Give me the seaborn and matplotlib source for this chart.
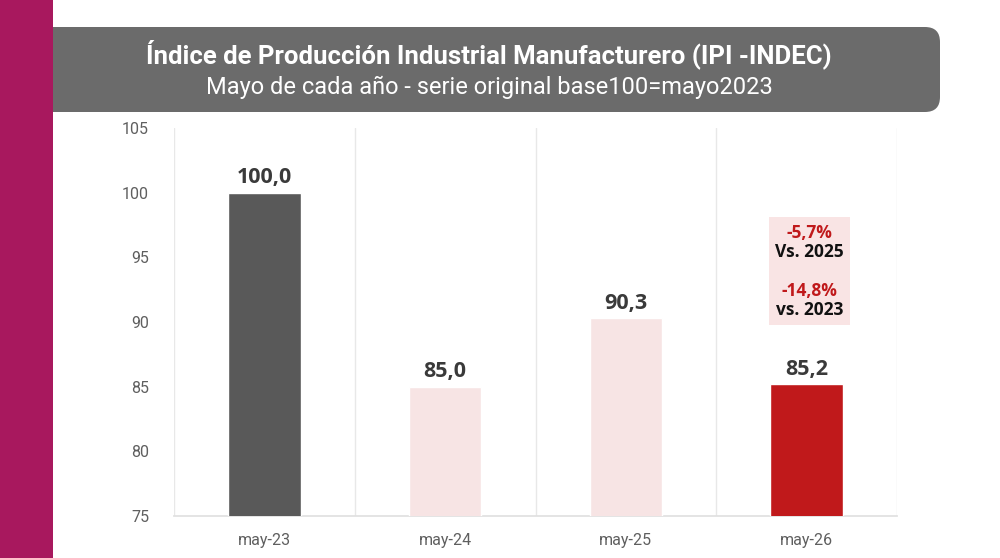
import matplotlib
matplotlib.use("Agg")
import matplotlib.pyplot as plt
import seaborn as sns
import pandas as pd
from matplotlib.patches import FancyBboxPatch, Rectangle

# data
periodos = ["may-23", "may-24", "may-25", "may-26"]
valores = [100.0, 85.0, 90.3, 85.2]
colores = ["#595959", "#F7E4E4", "#F7E4E4", "#C0191B"]
var_texto = ["-5,7%", "Vs. 2025", "-14,8%", "vs. 2023"]
y_ticks = [75, 80, 85, 90, 95, 100, 105]

titulo = "Índice de Producción Industrial Manufacturero (IPI -INDEC)"
subtitulo = "Mayo de cada año - serie original base100=mayo2023"

df = pd.DataFrame({"periodo": periodos, "valor": valores})

sns.set_theme(style="white")
condensed = ["Liberation Sans Narrow", "Roboto", "DejaVu Sans"]
plt.rcParams["font.family"] = ["Open Sans", "DejaVu Sans"]

fig = plt.figure(figsize=(10, 5.58), dpi=100)

# title box (rounded on the right) and magenta strip on the left
fig.patches.append(FancyBboxPatch((0.03, 1 - 112 / 558), 0.91, 85 / 558,
                                  boxstyle="round,pad=0,rounding_size=0.015",
                                  transform=fig.transFigure, mutation_aspect=1.79,
                                  facecolor="#6B6B6B", edgecolor="none", zorder=1))
fig.patches.append(Rectangle((0, 0), 0.053, 1, transform=fig.transFigure,
                             facecolor="#A8185E", edgecolor="none", zorder=2))
fig.text(0.489, 1 - 54 / 558, titulo, ha="center", va="center", color="white",
         fontsize=18.5, fontweight="bold", family=condensed, zorder=3)
fig.text(0.489, 1 - 87 / 558, subtitulo, ha="center", va="center", color="white",
         fontsize=17, family=condensed, zorder=3)

ax = fig.add_axes([0.174, 1 - 516 / 558, 0.723, 388 / 558])
sns.barplot(data=df, x="periodo", y="valor", hue="periodo", palette=colores,
            saturation=1, width=0.4, legend=False, ax=ax, zorder=3)

ax.set_ylim(75, 105)
ax.set_xlim(-0.5, len(periodos) - 0.5)
ax.set_yticks(y_ticks)
ax.set_yticklabels([str(t) for t in y_ticks], family=condensed, fontsize=11.5, color="#5F5F5F")
ax.set_xticks(range(len(periodos)))
ax.set_xticklabels(periodos, family=condensed, fontsize=11.5, color="#5F5F5F")
ax.set_xticks([i - 0.5 for i in range(len(periodos) + 1)], minor=True)
ax.tick_params(axis="x", which="major", length=0, pad=12)
ax.tick_params(axis="x", which="minor", length=8, color="#E3E3E3", width=1)
ax.tick_params(axis="y", length=0, pad=18)
ax.grid(axis="x", which="minor", color="#E8E8E8", linewidth=1, zorder=0)
ax.set_xlabel("")
ax.set_ylabel("")
for s in ["top", "right", "left"]:
    ax.spines[s].set_visible(False)
ax.spines["bottom"].set_color("#E0E0E0")

for cont in ax.containers:
    ax.bar_label(cont, labels=[f"{v:.1f}".replace(".", ",") for v in cont.datavalues],
                 padding=3, fontsize=15.5, fontweight="bold", color="#3A3A3A")

# annotation box over last bar
ax.add_patch(Rectangle((3 - 0.21, 89.8), 0.45, 8.3, facecolor="#F9E4E4",
                       edgecolor="none", zorder=2))
ys = [96.9, 95.4, 92.4, 90.9]
cols = ["#C0191B", "#111111", "#C0191B", "#111111"]
for t, y, c in zip(var_texto, ys, cols):
    ax.text(3.015, y, t, ha="center", va="center", fontsize=12.5, fontweight="bold",
            color=c, zorder=4)

fig.savefig("out.png", dpi=100)
